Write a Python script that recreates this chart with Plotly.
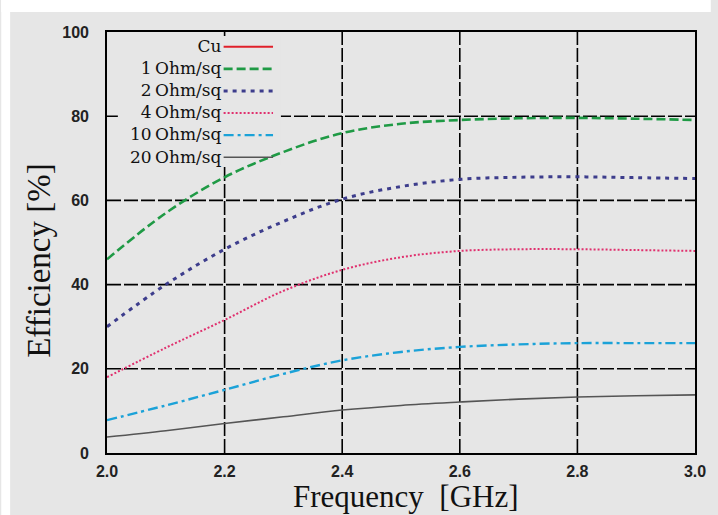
import plotly.graph_objects as go

freq = [2.0, 2.1, 2.2, 2.3, 2.4, 2.5, 2.6, 2.7, 2.8, 2.9, 3.0]
cu = [None] * len(freq)
ohm1 = [46, 57, 65.5, 71.5, 76, 78.2, 79.1, 79.5, 79.6, 79.4, 79.1]
ohm2 = [30, 40, 48.4, 55, 60.3, 63.3, 65, 65.5, 65.6, 65.4, 65.2]
ohm4 = [18, 25, 31.6, 38.5, 43.5, 46.5, 48, 48.4, 48.4, 48.2, 48]
ohm10 = [7.8, 11.3, 15, 18.8, 22, 24, 25.2, 25.8, 26.1, 26.1, 26.1]
ohm20 = [3.8, 5.3, 7, 8.6, 10.2, 11.3, 12.1, 12.8, 13.3, 13.6, 13.8]

x_ticks = [2.0, 2.2, 2.4, 2.6, 2.8, 3.0]
x_ticktext = ["2.0", "2.2", "2.4", "2.6", "2.8", "3.0"]
y_ticks = [0, 20, 40, 60, 80, 100]

names = ["Cu", "1 Ohm/sq", "2 Ohm/sq", "4 Ohm/sq", "10 Ohm/sq", "20 Ohm/sq"]
legend_labels = ["Cu", "1\u2009Ohm/sq", "2\u2009Ohm/sq", "4\u2009Ohm/sq", "10\u2009Ohm/sq", "20\u2009Ohm/sq"]
series = [cu, ohm1, ohm2, ohm4, ohm10, ohm20]
colors = ["#e0202a", "#1f9a45", "#3d3d8c", "#e0306e", "#1ba2d8", "#555555"]
dashes = ["solid", "9px,4px", "4px,5px", "2px,2px", "10px,4px,3px,4px", "solid"]
widths = [2, 2.6, 3, 2, 2.4, 1.6]

BG = "#e6e6e6"
W, H = 718, 515
L, R, T, B = 107, 16, 32, 62
pw, ph = W - L - R, H - T - B

def px(x):
    return (x - L) / pw

def py(y):
    return (H - B - y) / ph

fig = go.Figure()
for nm, ys, c, d, w in zip(names, series, colors, dashes, widths):
    fig.add_trace(go.Scatter(x=freq, y=ys, name=nm, mode="lines",
                             line=dict(color=c, dash=d, width=w, shape="spline"),
                             showlegend=False))

shapes = []
# white strips at top and left of image
shapes.append(dict(type="rect", xref="paper", yref="paper", x0=px(0), x1=px(W), y0=py(12), y1=py(0),
                   fillcolor="white", line=dict(width=0), layer="below"))
shapes.append(dict(type="rect", xref="paper", yref="paper", x0=px(0), x1=px(9), y0=py(H), y1=py(0),
                   fillcolor="white", line=dict(width=0), layer="below"))
# dashed grid drawn as shapes under the traces
grid_line = dict(color="black", width=1.6, dash="14px,3px")
for xv in x_ticks[1:-1]:
    shapes.append(dict(type="line", xref="x", yref="y domain", x0=xv, x1=xv, y0=0, y1=1,
                       line=grid_line, layer="below"))
for yv in y_ticks[1:-1]:
    shapes.append(dict(type="line", xref="x domain", yref="y", x0=0, x1=1, y0=yv, y1=yv,
                       line=grid_line, layer="below"))
# legend background box hiding the grid
shapes.append(dict(type="rect", xref="paper", yref="paper", x0=px(118), x1=px(283), y0=py(165), y1=py(36),
                   fillcolor=BG, line=dict(width=0), layer="below"))

annotations = []
fs = 17
yc = 101
lab_text = "<br>".join(legend_labels)
annotations.append(dict(xref="paper", yref="paper", x=px(223), y=py(yc), text=lab_text, showarrow=False,
                        xanchor="right", yanchor="middle", align="right", borderpad=0,
                        font=dict(family="DejaVu Serif", size=fs, color="#111")))
for k, (c, d, w) in enumerate(zip(colors, dashes, widths)):
    ry = yc + (k - 2.5) * 1.3 * fs + 1
    shapes.append(dict(type="line", xref="paper", yref="paper", x0=px(225), x1=px(275), y0=py(ry), y1=py(ry),
                       line=dict(color=c, dash=d, width=w)))

# axis titles
annotations.append(dict(xref="paper", yref="paper", x=px(410), y=py(497), text="Frequency  [GHz]",
                        showarrow=False, xanchor="center", yanchor="middle",
                        font=dict(family="Liberation Serif", size=31, color="#111")))
annotations.append(dict(xref="paper", yref="paper", x=px(38), y=py(260), text="Efficiency [%]",
                        showarrow=False, xanchor="center", yanchor="middle", textangle=-90,
                        font=dict(family="Liberation Serif", size=33, color="#111")))

fig.update_layout(
    width=W, height=H,
    margin=dict(l=L, r=R, t=T, b=B),
    paper_bgcolor=BG, plot_bgcolor=BG,
    shapes=shapes, annotations=annotations,
)
fig.update_xaxes(range=[2.0, 3.0], tickvals=x_ticks, ticktext=x_ticktext,
                 showgrid=False,
                 showline=True, linecolor="black", linewidth=1.6, mirror=True,
                 zeroline=False, ticks="", ticklabelstandoff=3,
                 tickfont=dict(family="Liberation Sans", size=16, color="#222", weight="bold"))
fig.update_yaxes(range=[0, 100], tickvals=y_ticks,
                 showgrid=False,
                 showline=True, linecolor="black", linewidth=1.6, mirror=True,
                 zeroline=False, ticks="", ticklabelstandoff=13,
                 tickfont=dict(family="Liberation Sans", size=16, color="#222", weight="bold"))

fig.write_html("out.html")
